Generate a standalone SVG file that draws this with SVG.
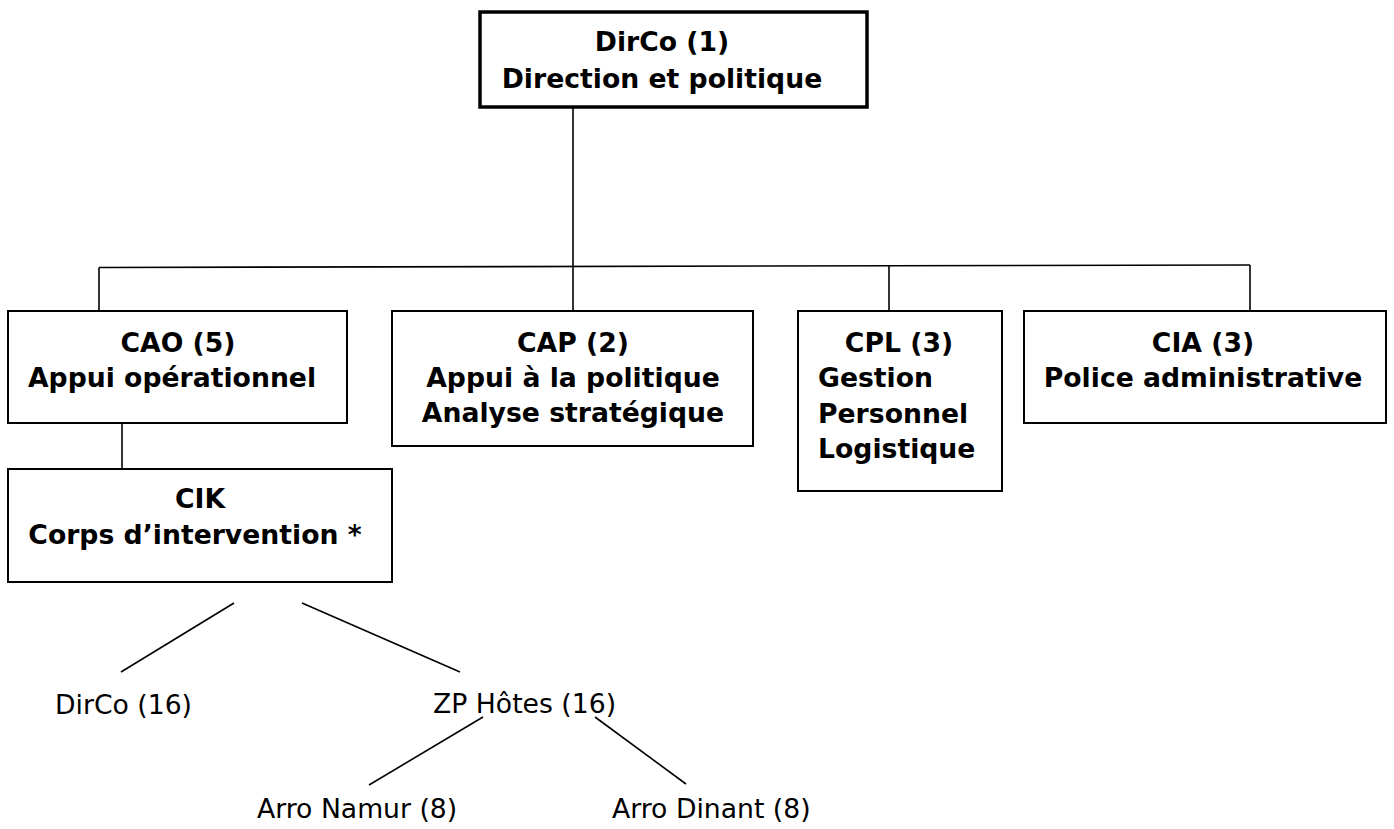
<svg xmlns="http://www.w3.org/2000/svg" width="1394" height="829" viewBox="0 0 1394 829">
<style>
.box{fill:#fff;stroke:#000;stroke-width:2}
.top{fill:#fff;stroke:#000;stroke-width:3.5}
.b{font-family:"DejaVu Sans",Verdana,sans-serif;font-weight:bold;font-size:26.67px;fill:#000}
.r{font-family:"DejaVu Sans",Verdana,sans-serif;font-size:26.67px;fill:#000}
.c{text-anchor:middle}
.ln{stroke:#000;stroke-width:1.6;fill:none}
</style>
<g id="connectors">
<line class="ln" x1="573" y1="107" x2="573" y2="266"/>
<line class="ln" x1="99" y1="267.5" x2="1250" y2="265"/>
<line class="ln" x1="99" y1="267.5" x2="99" y2="311"/>
<line class="ln" x1="573" y1="266" x2="573" y2="311"/>
<line class="ln" x1="889" y1="265.5" x2="889" y2="311"/>
<line class="ln" x1="1250" y1="265" x2="1250" y2="311"/>
<line class="ln" x1="122" y1="423" x2="122" y2="469"/>
<line class="ln" x1="234" y1="603" x2="121" y2="672"/>
<line class="ln" x1="302" y1="603" x2="460" y2="672"/>
<line class="ln" x1="483" y1="717" x2="369" y2="785"/>
<line class="ln" x1="595" y1="717" x2="686" y2="784"/>
</g>
<g id="dirco">
<rect class="top" x="480" y="12" width="387" height="95"/>
<text class="b c" x="662" y="51">DirCo (1)</text>
<text class="b c" x="662" y="88">Direction et politique</text>
</g>
<g id="cao">
<rect class="box" x="8" y="311" width="339" height="112"/>
<text class="b c" x="178" y="352">CAO (5)</text>
<text class="b c" x="172" y="387">Appui opérationnel</text>
</g>
<g id="cap">
<rect class="box" x="392" y="311" width="361" height="135"/>
<text class="b c" x="573" y="352">CAP (2)</text>
<text class="b c" x="573" y="387">Appui à la politique</text>
<text class="b c" x="573" y="422">Analyse stratégique</text>
</g>
<g id="cpl">
<rect class="box" x="798" y="311" width="204" height="180"/>
<text class="b c" x="899" y="352">CPL (3)</text>
<text class="b" x="818" y="387">Gestion</text>
<text class="b" x="818" y="423">Personnel</text>
<text class="b" x="818" y="458">Logistique</text>
</g>
<g id="cia">
<rect class="box" x="1024" y="311" width="362" height="112"/>
<text class="b c" x="1203" y="352">CIA (3)</text>
<text class="b c" x="1203" y="387">Police administrative</text>
</g>
<g id="cik">
<rect class="box" x="8" y="469" width="384" height="113"/>
<text class="b c" x="200" y="508">CIK</text>
<text class="b c" x="195" y="544">Corps d’intervention *</text>
</g>
<g id="dirco16"><text class="r" x="55" y="714">DirCo (16)</text></g>
<g id="zphotes"><text class="r" x="433" y="713">ZP Hôtes (16)</text></g>
<g id="namur"><text class="r" x="257" y="818">Arro Namur (8)</text></g>
<g id="dinant"><text class="r" x="612" y="818">Arro Dinant (8)</text></g>
</svg>
